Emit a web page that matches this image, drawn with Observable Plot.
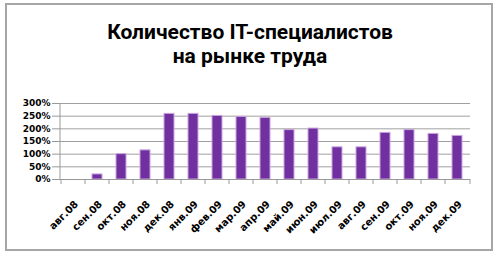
<!DOCTYPE html>
<html>
<head>
<meta charset="utf-8">
<script src="https://cdn.jsdelivr.net/npm/d3@7"></script>
<script src="https://cdn.jsdelivr.net/npm/@observablehq/plot@0.6"></script>
<style>
  html, body { margin: 0; padding: 0; background: #fff; }
  #wrap { position: relative; width: 500px; height: 257px; overflow: hidden; }
  #frame { position: absolute; left: 5px; top: 3px; width: 484px; height: 244px; border: 2px solid #a6a6a6; box-sizing: content-box; }
  #title { position: absolute; left: 0; top: 20px; width: 500px; text-align: center;
           font-family: Roboto, sans-serif; font-weight: bold; font-size: 21px; line-height: 24px; color: #000; }
  #chart { position: absolute; left: 0; top: 95px; }
</style>
</head>
<body>
<div id="wrap">
  <div id="frame"></div>
  <div id="title">Количество IT-специалистов<br>на рынке труда</div>
  <div id="chart"></div>
</div>
<script>
const months = ["авг.08","сен.08","окт.08","ноя.08","дек.08","янв.09","фев.09","мар.09","апр.09","май.09","июн.09","июл.09","авг.09","сен.09","окт.09","ноя.09","дек.09"];
const values = [0, 20, 100, 115, 259, 259, 251, 247, 243, 195, 201, 127, 127, 184, 195, 180, 172];
const yTicks = [0, 50, 100, 150, 200, 250, 300];

const data = months.map((m, i) => ({month: m, value: values[i]}));

// axis lines: left vertical axis line and tick marks at category boundaries
function axisLines(index, scales, channels, dims) {
  const x = scales.x;
  const y = scales.y;
  const y0 = y(0);
  const g = d3.create("svg:g").attr("stroke", "#999").attr("stroke-width", 1);
  g.append("line").attr("x1", dims.marginLeft).attr("x2", dims.marginLeft).attr("y1", y(300)).attr("y2", y0);
  const edges = months.map(m => x(m)).concat([dims.width - dims.marginRight]);
  for (const e of edges) {
    g.append("line").attr("x1", e).attr("x2", e).attr("y1", y0).attr("y2", y0 + 5);
  }
  return g.node();
}

const plot = Plot.plot({
  width: 500,
  height: 162,
  marginLeft: 60,
  marginRight: 30,
  marginTop: 8,
  marginBottom: 78,
  style: { fontFamily: "DejaVu Sans, sans-serif", fontWeight: "bold", fontSize: "9px", color: "#000", background: "transparent" },
  x: { domain: months, padding: 0, label: null },
  y: { domain: [0, 300], label: null },
  marks: [
    Plot.gridY(yTicks, { stroke: "#a0a0a0", strokeOpacity: 1 }),
    Plot.axisY(yTicks, { tickSize: 8, tickPadding: 2, stroke: "#999", tickFormat: d => d + "%", fontWeight: "bold", fontSize: 9, label: null }),
    Plot.barY(data, { x: "month", y: "value", fill: "#7030a0", stroke: "#c9a3e0", strokeWidth: 1, insetLeft: 7, insetRight: 7 }),
    Plot.ruleY([0], { stroke: "#999" }),
    axisLines,
    Plot.axisX({ tickSize: 0, tickPadding: 23, tickRotate: -45, fontWeight: "bold", fontSize: 10, dx: 3, label: null })
  ]
});
document.getElementById("chart").appendChild(plot);
</script>
</body>
</html>
